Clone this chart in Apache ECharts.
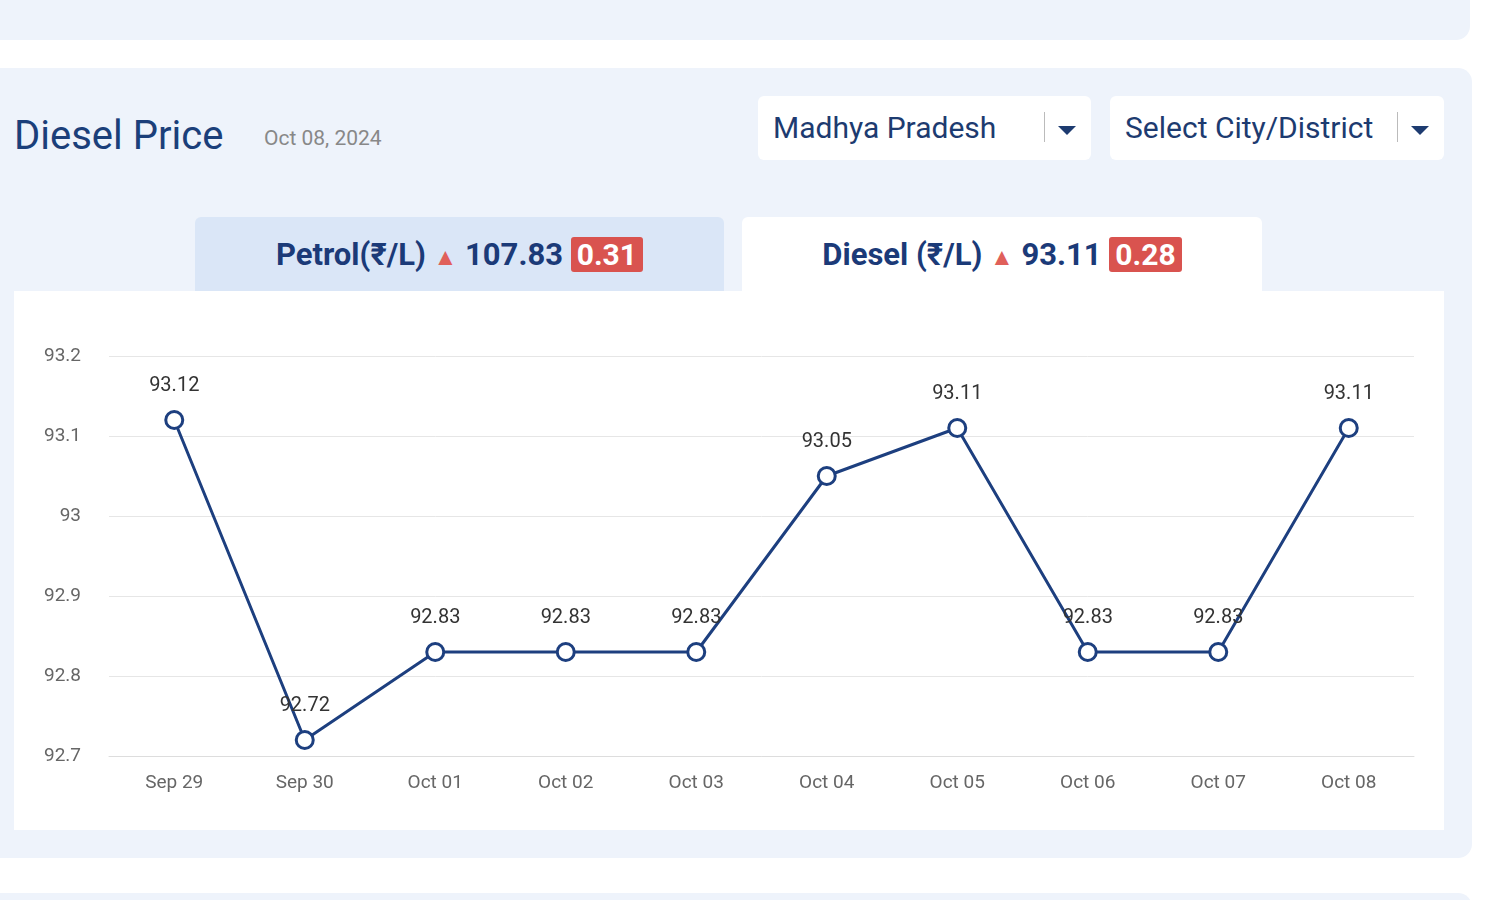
<!DOCTYPE html>
<html><head><meta charset="utf-8">
<script src="https://cdn.jsdelivr.net/npm/echarts@6/dist/echarts.min.js"></script>
<style>
body{margin:0;width:1500px;height:900px;background:#fff;font-family:Roboto,"Noto Sans",sans-serif;position:relative;overflow:hidden}
.card{position:absolute;background:#eef3fb;border-radius:14px}
.abs{position:absolute}
.sel{position:absolute;background:#fff;border-radius:6px;top:96px;height:64px;font-size:30px;color:#1d3b70;line-height:64px;padding-left:15px;box-sizing:border-box}
.caret{position:absolute;top:30px;width:0;height:0;border-left:9px solid transparent;border-right:9px solid transparent;border-top:9px solid #1d3b70}
.bar{position:absolute;top:16px;width:1px;height:30px;background:#bbb}
.tab{position:absolute;top:217px;height:75px;font-size:31px;font-weight:bold;color:#1b3a78;text-align:center;line-height:76px;border-radius:6px 6px 0 0}
.badge{background:#d9534f;color:#fff;padding:0 6px;border-radius:3px;font-size:30px}
.tri{color:#e0605a;font-size:24px}
#chart{position:absolute;left:0;top:0;width:1500px;height:900px}
</style></head><body>
<div class="card" style="left:-20px;top:-20px;width:1490px;height:60px"></div>
<div class="card" style="left:-20px;top:68px;width:1492px;height:790px"></div>
<div class="card" style="left:-20px;top:893px;width:1492px;height:60px"></div>
<div class="abs" style="left:14px;top:112px;font-size:40px;color:#1b3f7a">Diesel Price</div>
<div class="abs" style="left:264px;top:126px;font-size:21px;color:#888">Oct 08, 2024</div>
<div class="sel" style="left:758px;width:333px">Madhya Pradesh<div class="bar" style="left:286px"></div><div class="caret" style="left:300px"></div></div>
<div class="sel" style="left:1110px;width:334px">Select City/District<div class="bar" style="left:287px"></div><div class="caret" style="left:301px"></div></div>
<div class="tab" style="left:195px;width:529px;background:#dae6f7">Petrol(₹/L) <span class="tri">▲</span> 107.83 <span class="badge">0.31</span></div>
<div class="tab" style="left:742px;width:520px;background:#fff">Diesel (₹/L) <span class="tri">▲</span> 93.11 <span class="badge">0.28</span></div>
<div class="abs" style="left:14px;top:291px;width:1430px;height:539px;background:#fff"></div>
<div id="chart"></div>
<script>
const dates = ["Sep 29","Sep 30","Oct 01","Oct 02","Oct 03","Oct 04","Oct 05","Oct 06","Oct 07","Oct 08"];
const prices = [93.12,92.72,92.83,92.83,92.83,93.05,93.11,92.83,92.83,93.11];
const chart = echarts.init(document.getElementById('chart'));
chart.setOption({
  grid:{left:109,right:86,top:356,bottom:144},
  xAxis:{type:'category',data:dates,boundaryGap:true,
    axisLine:{lineStyle:{color:'#ddd'}},axisTick:{show:false},
    axisLabel:{color:'#666',fontSize:19,margin:18,fontFamily:'Roboto'}},
  yAxis:{type:'value',min:92.7,max:93.2,interval:0.1,
    axisLine:{show:false},axisTick:{show:false},
    splitLine:{lineStyle:{color:'#e6e6e6'}},
    axisLabel:{color:'#666',fontSize:19,margin:28,fontFamily:'Roboto',formatter:v=>+v.toFixed(1)}},
  series:[{type:'line',data:prices,symbol:'circle',symbolSize:17,
    lineStyle:{color:'#1d3f7f',width:3},
    itemStyle:{color:'#fff',borderColor:'#1d3f7f',borderWidth:3},
    label:{show:true,position:'top',distance:14,color:'#333',fontSize:20,fontFamily:'Roboto'}}]
});
</script>
</body></html>
